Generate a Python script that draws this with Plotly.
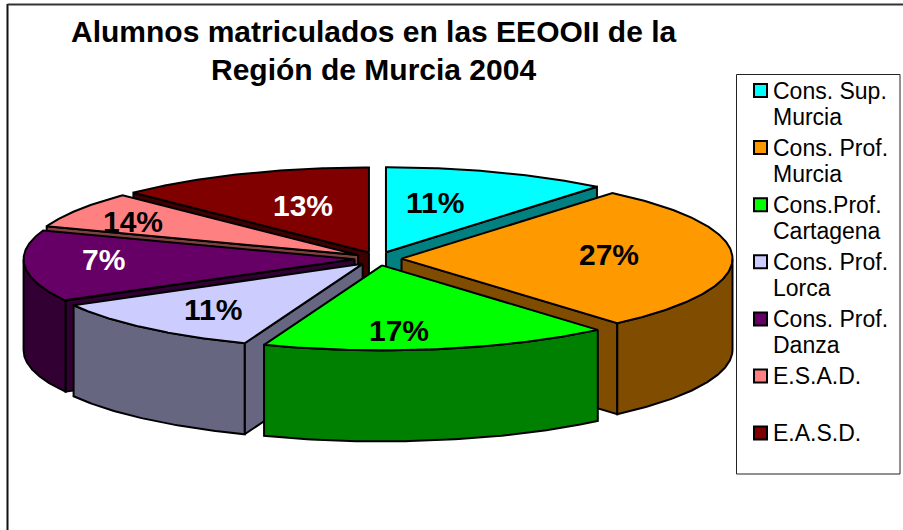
import numpy as np
import plotly.graph_objects as go

# ---- data -------------------------------------------------------------
categories = ["Cons. Sup.\nMurcia", "Cons. Prof.\nMurcia", "Cons.Prof.\nCartagena",
              "Cons. Prof.\nLorca", "Cons. Prof.\nDanza", "E.S.A.D.", "E.A.S.D."]
slice_shares = [11.0, 27.7, 17.1, 11.1, 13.6, 6.9, 12.6]   # wedge sizes
percent_labels = ["11%", "27%", "17%", "11%", "7%", "14%", "13%"]  # printed labels
title_lines = ["Alumnos matriculados en las EEOOII de la", "Región de Murcia 2004"]

top_colors = ["#00FFFF", "#FF9900", "#00FF00", "#CCCCFF", "#660066", "#FF8080", "#800000"]
side_colors = ["#008080", "#7F4C00", "#008000", "#666680", "#330033", "#804040", "#400000"]
label_colors = ["black", "black", "black", "black", "white", "black", "white"]

# ---- layout constants (pixels) ----------------------------------------
W, H = 903, 530
CX, CY = 378.0, 258.7
RX, RY = 331.0, 85.0
EX, EY = 23.5, 6.8
DEPTH = 91.0
LABEL_POS = [(435, 202), (609, 254), (399, 330), (213, 309), (103, 259), (133, 221), (303, 205)]
DRAW_ORDER = [6, 0, 5, 1, 4, 3, 2]

shares = np.array(slice_shares, dtype=float)
edges = np.concatenate([[0.0], np.cumsum(shares)]) / shares.sum() * 2 * np.pi

fig = go.Figure()


def poly(xs, ys, fill):
    xs = list(xs) + [xs[0]]
    ys = list(ys) + [ys[0]]
    fig.add_trace(go.Scatter(x=xs, y=ys, mode="lines", fill="toself", fillcolor=fill,
                             line=dict(color="black", width=2), hoverinfo="skip",
                             showlegend=False))


for i in DRAW_ORDER:
    t0, t1 = edges[i], edges[i + 1]
    mid = (t0 + t1) / 2
    ax = CX + EX * np.sin(mid)
    ay = CY - EY * np.cos(mid)
    rim = lambda t: (ax + RX * np.sin(t), ay - RY * np.cos(t))
    # only the cut face turned towards the viewer is drawn
    for t, visible in ((t0, np.sin(t0) < -1e-6), (t1, np.sin(t1) > 1e-6)):
        if visible:
            px, py = rim(t)
            poly([ax, px, px, ax], [ay, py, py + DEPTH, ay + DEPTH], side_colors[i])
    # outer wall (front half only)
    a, b = max(t0, np.pi / 2), min(t1, 3 * np.pi / 2)
    if b > a:
        ts = np.linspace(a, b, 80)
        wx, wy = rim(ts)
        poly(np.r_[wx, wx[::-1]], np.r_[wy, wy[::-1] + DEPTH], side_colors[i])
    # top face
    ts = np.linspace(t0, t1, 120)
    tx, ty = rim(ts)
    poly(np.r_[ax, tx], np.r_[ay, ty], top_colors[i])

# legend swatches
LEG_X, LEG_Y0, LEG_DY = 760.5, 90.5, 57.1
leg_y = [LEG_Y0 + LEG_DY * k for k in range(len(categories))]
fig.add_trace(go.Scatter(x=[LEG_X] * len(categories), y=leg_y, mode="markers",
                         marker=dict(symbol="square", size=13, color=top_colors,
                                     line=dict(color="black", width=2)),
                         hoverinfo="skip", showlegend=False))

annotations = []
for lab, col, (x, y) in zip(percent_labels, label_colors, LABEL_POS):
    annotations.append(dict(x=x, y=y, text="<b>" + lab + "</b>", showarrow=False,
                            xanchor="center", yanchor="middle",
                            font=dict(family="Liberation Sans", size=30, color=col)))
for line, y in zip(title_lines, (31, 69)):
    annotations.append(dict(x=373.5, y=y, text="<b>" + line + "</b>", showarrow=False,
                            xanchor="center", yanchor="middle",
                            font=dict(family="Liberation Sans", size=30, color="black")))
for cat, y in zip(categories, leg_y):
    for j, line in enumerate(cat.split("\n")):
        annotations.append(dict(x=770.5, y=y + j * 26, text=line, showarrow=False,
                                xanchor="left", yanchor="middle",
                                font=dict(family="Liberation Sans", size=23, color="black")))

shapes = [
    dict(type="line", x0=7.5, x1=7.5, y0=4, y1=H, line=dict(color="#111111", width=2), layer="below"),
    dict(type="line", x0=7.5, x1=W, y0=4.5, y1=4.5, line=dict(color="#333333", width=2), layer="below"),
    dict(type="rect", x0=736.5, x1=900, y0=74.5, y1=474, line=dict(color="#222222", width=1),
         fillcolor="white", layer="below"),
]

fig.update_layout(
    width=W, height=H, autosize=False,
    margin=dict(l=0, r=0, t=0, b=0),
    paper_bgcolor="white", plot_bgcolor="white",
    xaxis=dict(range=[0, W], visible=False, fixedrange=True),
    yaxis=dict(range=[H, 0], visible=False, fixedrange=True),
    showlegend=False, annotations=annotations, shapes=shapes,
)
fig.write_html("out.html", config=dict(displayModeBar=False),
               post_script="document.body.style.margin='0';document.body.style.overflow='hidden';")
